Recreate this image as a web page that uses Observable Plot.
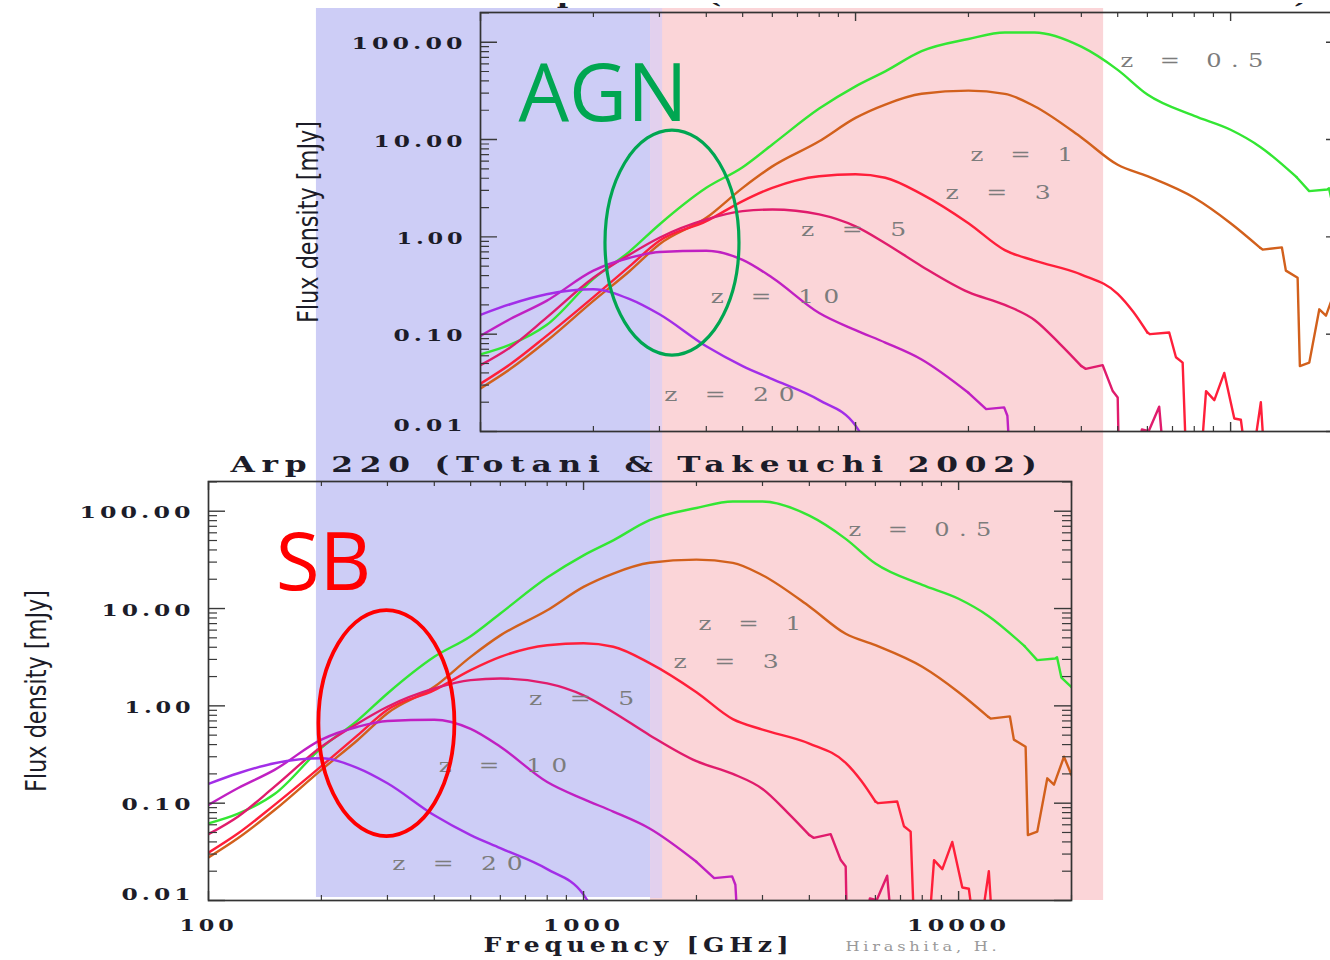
<!DOCTYPE html>
<html>
<head>
<meta charset="utf-8">
<script src="https://cdn.jsdelivr.net/npm/d3@7"></script>
<script src="https://cdn.jsdelivr.net/npm/@observablehq/plot@0.6"></script>
<style>
  html, body { margin: 0; padding: 0; background: #fff; }
  #stage { position: relative; width: 1330px; height: 960px; overflow: hidden; background: #fff; }
  #stage > svg { position: absolute; }
</style>
</head>
<body>
<div id="stage"></div>
<script>
// Arp 220 template SED (Totani & Takeuchi 2002) observed at several redshifts.
// Frequency in GHz, flux density in mJy.
const freqZ05 = [100, 120, 150, 200, 250, 300, 400, 500, 600, 800, 1000, 1200, 1500, 2000, 2500, 3000, 4000, 5000, 6000, 8000, 10000, 12000, 15000, 16200, 18100, 18300, 18800, 20000];
const fluxZ05 = [0.062, 0.078, 0.124, 0.37, 0.71, 1.34, 3.19, 5.2, 8.9, 20.8, 35.2, 50.2, 81, 108, 126, 126, 90, 52, 29, 17.5, 12.6, 8.4, 4.1, 2.95, 3.07, 3.16, 1.95, 1.56];

const freqZ1 = [100, 120, 150, 200, 250, 300, 400, 500, 600, 800, 1000, 1200, 1500, 2000, 2500, 3000, 4000, 5000, 6000, 8000, 10000, 12000, 12170, 13700, 14040, 15090, 15300, 16210, 17240, 17960, 19100, 20000];
const fluxZ1 = [0.0277, 0.0438, 0.085, 0.22, 0.446, 0.84, 1.57, 3.19, 5.3, 9.6, 16.7, 22.9, 29.5, 31.8, 29.5, 22, 10.5, 5.5, 4.2, 2.52, 1.38, 0.77, 0.74, 0.78, 0.45, 0.38, 0.047, 0.051, 0.18, 0.155, 0.30, 0.195];

const freqZ3 = [100, 120, 150, 200, 250, 300, 400, 500, 600, 800, 1000, 1200, 1500, 2000, 2500, 3000, 4000, 5000, 5500, 6000, 6100, 6860, 7150, 7450, 7650, 8250, 8600, 9050, 9620, 10230, 10650, 11210, 12040, 12420];
const fluxZ3 = [0.031, 0.049, 0.096, 0.24, 0.50, 0.91, 1.45, 2.33, 3.19, 4.2, 4.4, 4.05, 2.75, 1.38, 0.73, 0.57, 0.41, 0.26, 0.17, 0.104, 0.10, 0.104, 0.058, 0.051, 0.003, 0.003, 0.026, 0.021, 0.040, 0.0136, 0.0132, 0.003, 0.020, 0.003];

const freqZ5 = [100, 120, 150, 200, 250, 300, 400, 500, 600, 800, 1000, 1200, 1500, 2000, 2500, 3000, 3500, 4000, 4110, 4560, 4850, 5000, 5050, 5500, 5800, 6050, 6450, 6720];
const fluxZ5 = [0.048, 0.073, 0.148, 0.38, 0.66, 0.98, 1.51, 1.84, 1.91, 1.70, 1.28, 0.86, 0.50, 0.27, 0.20, 0.14, 0.08, 0.047, 0.044, 0.048, 0.026, 0.0224, 0.003, 0.003, 0.0105, 0.0101, 0.018, 0.003];

const freqZ10 = [100, 120, 150, 200, 250, 300, 400, 500, 600, 800, 1000, 1200, 1500, 2000, 2230, 2490, 2540, 2600];
const fluxZ10 = [0.096, 0.143, 0.22, 0.45, 0.61, 0.70, 0.72, 0.58, 0.38, 0.165, 0.11, 0.082, 0.055, 0.025, 0.017, 0.0177, 0.0145, 0.003];

const freqZ20 = [100, 120, 150, 200, 250, 300, 400, 500, 600, 800, 1000, 1080];
const fluxZ20 = [0.158, 0.203, 0.257, 0.289, 0.229, 0.16, 0.075, 0.047, 0.0345, 0.021, 0.0115, 0.007];

const redshifts = ["0.5", "1", "3", "5", "10", "20"];
const seriesFreq = [freqZ05, freqZ1, freqZ3, freqZ5, freqZ10, freqZ20];
const seriesFlux = [fluxZ05, fluxZ1, fluxZ3, fluxZ5, fluxZ10, fluxZ20];
// beyond these frequencies the template becomes noisy (drawn as a plain polyline)
const noisyFrom = [15000, 12000, 6000, 4000, 2000, Infinity];

// curve labels, anchored at their left edge
const labelText = ["z = 0.5", "z = 1", "z = 3", "z = 5", "z = 10", "z = 20"];
const labelFreq = [5090, 2026, 1738, 715, 411, 309];
const labelFlux = [63.5, 6.9, 2.83, 1.17, 0.237, 0.0238];

// axis ticks
const xMajor = [100, 1000, 10000];
const xMajorLabels = ["100", "1000", "10000"];
const xMinor = [200, 300, 400, 500, 600, 700, 800, 900, 2000, 3000, 4000, 5000, 6000, 7000, 8000, 9000, 20000];
const yMajor = [0.01, 0.1, 1, 10, 100];
const yMajorLabels = ["0.01", "0.10", "1.00", "10.00", "100.00"];
const yMinor = [0.02, 0.03, 0.04, 0.05, 0.06, 0.07, 0.08, 0.09, 0.2, 0.3, 0.4, 0.5, 0.6, 0.7, 0.8, 0.9,
                2, 3, 4, 5, 6, 7, 8, 9, 20, 30, 40, 50, 60, 70, 80, 90, 200];

// highlighted frequency bands (GHz on the lower panel's axis)
const bandFrom = [194, 1509];
const bandTo = [1625, 24360];

// encircled crossover regions and panel tags
const tagText = ["AGN", "SB"];
const tagFreq = [126.3, 151];
const tagFlux = [28.7, 28.4];
const ringFreq = [325, 299];
const ringFlux = [0.864, 0.658];

// ---------------------------------------------------------------------------
const smoothRows = [], noisyRows = [];
seriesFreq.forEach((fs, k) => fs.forEach((f, i) => {
  const row = {z: redshifts[k], freq: f, flux: seriesFlux[k][i]};
  if (f <= noisyFrom[k]) smoothRows.push(row);
  if (f >= noisyFrom[k]) noisyRows.push(row);
}));
const zLabels = labelText.map((t, i) => ({text: t, freq: labelFreq[i], flux: labelFlux[i]}));
const yTicks = yMajor.map((v, i) => ({v, label: yMajorLabels[i]}));
const xTicks = xMajor.map((v, i) => ({v, label: xMajorLabels[i]}));

const W = 1330, H = 520;
const M = {top: 41, right: 259, bottom: 60, left: 208};
const frameW = W - M.left - M.right;
const frameH = H - M.top - M.bottom;
const serif = "'DejaVu Serif', serif";
const ink = "#1c1c28";
const axisInk = "#3a3a3a";
const lineColors = ["#33e633", "#d2601c", "#ff1f3a", "#e01c6c", "#c020c2", "#a22ee8"];

// widths (px) and letter spacing of the widely set labels
const textSpan = {
  "100.00": [115, 3], "10.00": [93, 3], "1.00": [70, 3], "0.10": [73, 3], "0.01": [73, 3],
  "100": [58, 3], "1000": [81, 3], "10000": [103, 3],
  "Arp 220 (Totani & Takeuchi 2002)": [813, 5],
  "Frequency [GHz]": [310, 4],
  "Hirashita, H.": [155, 3],
  "z = 0.5": [152, 7], "z = 1": [112, 7], "z = 3": [115, 7], "z = 5": [115, 7], "z = 10": [138, 7], "z = 20": [140, 7],
  "Flux density [mJy]": [202, 0]
};

function spaceTexts(svg) {
  d3.select(svg).selectAll("text").each(function () {
    const span = textSpan[this.textContent];
    if (!span) return;
    this.style.letterSpacing = span[1] + "px";
    this.setAttribute("textLength", span[0]);
    this.setAttribute("lengthAdjust", "spacingAndGlyphs");
  });
  return svg;
}

function frameOptions(marks) {
  return {
    width: W, height: H,
    marginTop: M.top, marginRight: M.right, marginBottom: M.bottom, marginLeft: M.left,
    x: {type: "log", domain: [100, 20000], axis: null},
    y: {type: "log", domain: [0.01, 202], axis: null},
    color: {domain: redshifts, range: lineColors},
    style: {background: "transparent", overflow: "visible"},
    marks
  };
}

function sedPanel() {
  const label = {fontFamily: serif, fontWeight: "bold", fill: ink};
  const marks = [
    Plot.line(smoothRows, {x: "freq", y: "flux", z: "z", stroke: "z", strokeWidth: 2.4, curve: "monotone-x", clip: true}),
    Plot.line(noisyRows, {x: "freq", y: "flux", z: "z", stroke: "z", strokeWidth: 2.4, clip: true}),
    // inward ticks on all four sides
    Plot.tickX(xMinor, {x: d => d, insetTop: frameH - 5, stroke: axisInk, strokeWidth: 1.2}),
    Plot.tickX(xMajor, {x: d => d, insetTop: frameH - 9, stroke: axisInk, strokeWidth: 1.4}),
    Plot.tickX(xMinor, {x: d => d, insetBottom: frameH - 5, stroke: axisInk, strokeWidth: 1.2}),
    Plot.tickX(xMajor, {x: d => d, insetBottom: frameH - 9, stroke: axisInk, strokeWidth: 1.4}),
    Plot.tickY(yMinor, {y: d => d, insetRight: frameW - 9, stroke: axisInk, strokeWidth: 1.2}),
    Plot.tickY(yMajor, {y: d => d, insetRight: frameW - 17, stroke: axisInk, strokeWidth: 1.4}),
    Plot.tickY(yMinor, {y: d => d, insetLeft: frameW - 9, stroke: axisInk, strokeWidth: 1.2}),
    Plot.tickY(yMajor, {y: d => d, insetLeft: frameW - 17, stroke: axisInk, strokeWidth: 1.4}),
    Plot.frame({stroke: "#333", strokeWidth: 1.7}),
    // tick labels
    Plot.text(yTicks.slice(1), {y: "v", text: "label", frameAnchor: "left", textAnchor: "end", lineAnchor: "middle",
      dx: -14, dy: 1.5, fontSize: 17.5, ...label}),
    Plot.text(yTicks.slice(0, 1), {y: "v", text: "label", frameAnchor: "left", textAnchor: "end", lineAnchor: "middle",
      dx: -14, dy: -6, fontSize: 17.5, ...label}),
    Plot.text(xTicks, {x: "v", text: "label", frameAnchor: "bottom", textAnchor: "middle", lineAnchor: "middle",
      dy: 24.5, fontSize: 17.5, ...label}),
    // titles
    Plot.text(["Arp 220 (Totani & Takeuchi 2002)"], {text: d => d, frameAnchor: "top", textAnchor: "middle", lineAnchor: "middle",
      dy: -16.5, dx: -3, fontSize: 23, ...label}),
    Plot.text(["Frequency [GHz]"], {text: d => d, frameAnchor: "bottom", textAnchor: "middle", lineAnchor: "middle",
      dy: 44.5, dx: -1.5, fontSize: 21, ...label}),
    Plot.text(["Flux density [mJy]"], {text: d => d, frameAnchor: "left", textAnchor: "middle", lineAnchor: "middle",
      dx: -171, rotate: -90, fontFamily: "'DejaVu Sans', sans-serif", fontSize: 28, fill: ink}),
    Plot.text(["Hirashita, H."], {text: d => d, frameAnchor: "bottom", textAnchor: "middle", lineAnchor: "middle",
      dx: 283, dy: 46, fontFamily: serif, fontSize: 13, fill: "#9a9a9a"}),
    // redshift labels
    Plot.text(zLabels, {x: "freq", y: "flux", text: "text", textAnchor: "start", lineAnchor: "middle",
      fontFamily: serif, fontSize: 18, fill: "#7c7c7c"})
  ];
  return spaceTexts(Plot.plot(frameOptions(marks)));
}

// ellipse drawn around a (frequency, flux) centre with pixel radii
function ring(freq, flux, rx, ry, color, width) {
  return (index, scales) => {
    const e = document.createElementNS("http://www.w3.org/2000/svg", "ellipse");
    e.setAttribute("cx", scales.x(freq));
    e.setAttribute("cy", scales.y(flux));
    e.setAttribute("rx", rx);
    e.setAttribute("ry", ry);
    e.setAttribute("fill", "none");
    e.setAttribute("stroke", color);
    e.setAttribute("stroke-width", width);
    return e;
  };
}

function place(el, left, top) {
  el.style.left = left + "px";
  el.style.top = top + "px";
  return el;
}

const stage = document.getElementById("stage");

// shaded frequency bands spanning both copies (drawn first, underneath)
const shade = Plot.plot({
  width: 1330, height: 960,
  marginTop: 8, marginBottom: 60, marginLeft: M.left, marginRight: M.right,
  x: {type: "log", domain: [100, 20000], axis: null},
  style: {background: "transparent"},
  marks: [
    Plot.rect([0], {x1: i => bandFrom[i], x2: i => bandTo[i], fill: "#cdcdf6", insetBottom: 3}),
    Plot.rect([1], {x1: i => bandFrom[i], x2: i => bandTo[i], fill: "#fbd5d8"}),
    // where the two bands meet
    Plot.rect([0], {x1: () => bandFrom[1], x2: () => bandTo[0], fill: "#e2d0ee", insetBottom: 2})
  ]
});
stage.appendChild(place(shade, 0, 0));

// upper copy of the figure (AGN case); its margins are partly hidden
const upper = sedPanel();
upper.style.clipPath = "polygon(0 32px, 1330px 32px, 1330px 476px, 833px 476px, 833px 466px, 0 466px)";
stage.appendChild(place(upper, 272, -29));

// lower copy of the figure (starburst case)
const lower = sedPanel();
stage.appendChild(place(lower, 0, 440));

// annotations
const upperNotes = Plot.plot(frameOptions([
  Plot.text(tagText.slice(0, 1), {x: () => tagFreq[0], y: () => tagFlux[0], text: d => d, textAnchor: "start",
    lineAnchor: "middle", fontFamily: "'Open Sans', 'Noto Sans', sans-serif", fontSize: 80, fill: "#00a651"}),
  ring(ringFreq[0], ringFlux[0], 67, 112.5, "#00a651", 3.2)
]));
stage.appendChild(place(upperNotes, 272, -29));

const lowerNotes = Plot.plot(frameOptions([
  Plot.text(tagText.slice(1), {x: () => tagFreq[1], y: () => tagFlux[1], text: d => d, textAnchor: "start",
    lineAnchor: "middle", fontFamily: "'Open Sans', 'Noto Sans', sans-serif", fontSize: 80, fill: "#ff0000"}),
  ring(ringFreq[1], ringFlux[1], 68, 113, "#ff0000", 3.8)
]));
stage.appendChild(place(lowerNotes, 0, 440));
</script>
</body>
</html>
